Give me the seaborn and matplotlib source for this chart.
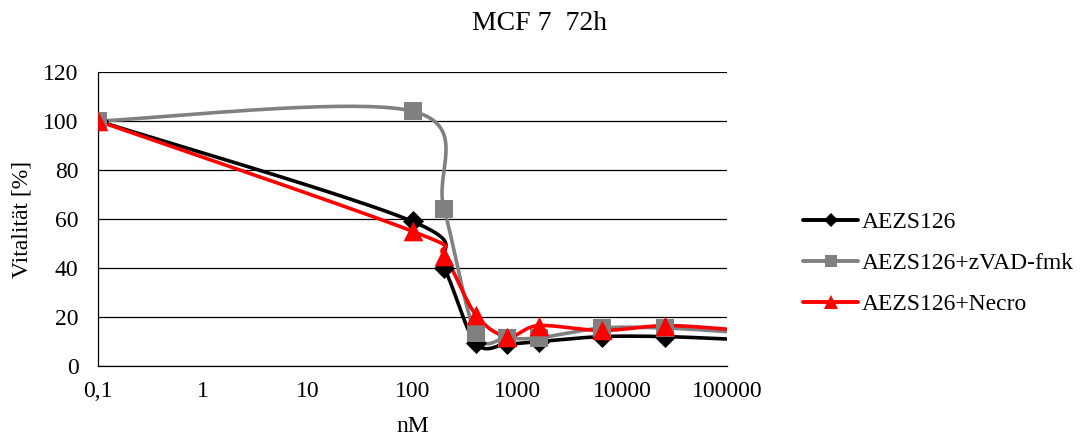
import numpy as np
import pandas as pd
import matplotlib
matplotlib.use("Agg")
import matplotlib.pyplot as plt
import seaborn as sns
from matplotlib.lines import Line2D

# ---- data ----
conc = [0.1, 100, 200, 400, 800, 1600, 6400, 25600, 102400]
aezs = [100, 59, 40, 9.5, 9, 10, 12, 12, 11]
zvad = [100, 104, 64, 13.5, 11.5, 11.5, 15.5, 15.5, 14]
necro = [100, 55, 45, 21, 12, 16.5, 14.5, 16.5, 15]
series_names = ["AEZS126", "AEZS126+zVAD-fmk", "AEZS126+Necro"]
x_ticks = [0.1, 1, 10, 100, 1000, 10000, 100000]
x_ticklabels = ["0,1", "1", "10", "100", "1000", "10000", "100000"]
y_ticks = [0, 20, 40, 60, 80, 100, 120]

colors = ["#000000", "#808080", "#FF0000"]
markers = ["D", "s", "^"]
msizes = [115, 185, 200]
leg_msizes = [7, 9, 10]

sns.set_theme(style="white")
plt.rcParams["font.family"] = ["Liberation Serif", "DejaVu Serif"]
plt.rcParams["text.color"] = "black"
plt.rcParams["axes.labelcolor"] = "black"
plt.rcParams["xtick.color"] = "black"
plt.rcParams["ytick.color"] = "black"

FS = 17

fig = plt.figure(figsize=(10.83, 4.41), dpi=100)
ax = fig.add_axes([98 / 1083, 1 - 366 / 441, (727 - 98) / 1083, (366 - 72) / 441])

XS, YS = 105.0, 2.45  # approx px per decade / per unit, used for smoothing in screen space


def smooth(xs, ys, n=40):
    u = np.log10(np.asarray(xs, float)) * XS
    v = np.asarray(ys, float) * YS
    P = np.column_stack([u, v])
    P = np.vstack([P[0], P, P[-1]])
    out = []
    for i in range(1, len(P) - 2):
        p0, p1, p2, p3 = P[i - 1], P[i], P[i + 1], P[i + 2]
        b1 = p1 + (p2 - p0) / 6.0
        b2 = p2 - (p3 - p1) / 6.0
        t = np.linspace(0, 1, n)[:, None]
        seg = ((1 - t) ** 3) * p1 + 3 * ((1 - t) ** 2) * t * b1 + 3 * (1 - t) * t ** 2 * b2 + t ** 3 * p2
        out.append(seg if i == 1 else seg[1:])
    S = np.vstack(out)
    return 10 ** (S[:, 0] / XS), S[:, 1] / YS


for name, vals, c, m, ms in zip(series_names, [aezs, zvad, necro], colors, markers, msizes):
    sx, sy = smooth(conc, vals)
    df_line = pd.DataFrame({"x": sx, "y": sy})
    sns.lineplot(data=df_line, x="x", y="y", ax=ax, color=c, lw=2.6, sort=False,
                 estimator=None, legend=False, zorder=3)
    df_pts = pd.DataFrame({"x": conc, "y": vals})
    df_pts = df_pts[df_pts["x"] <= 100000]
    sns.scatterplot(data=df_pts, x="x", y="y", ax=ax, color=c, marker=m, s=ms,
                    edgecolor=c, linewidth=0, legend=False, zorder=4)

ax.set_xscale("log")
ax.set_xlim(0.1, 100000)
ax.set_ylim(0, 120)
ax.set_xticks(x_ticks)
ax.set_xticklabels(x_ticklabels)
ax.minorticks_off()
ax.set_yticks(y_ticks)
ax.tick_params(axis="both", labelsize=FS, length=0)
ax.tick_params(axis="x", pad=11)
ax.tick_params(axis="y", pad=14)
ax.yaxis.grid(True, color="#000000", lw=0.9)
ax.xaxis.grid(False)
for s in ["top", "right"]:
    ax.spines[s].set_visible(False)
for s in ["left", "bottom"]:
    ax.spines[s].set_color("#000000")
    ax.spines[s].set_linewidth(0.9)

ax.set_xlabel("nM", fontsize=FS, labelpad=10)
ax.set_ylabel("Vitalität [%]", fontsize=FS, labelpad=8)
fig.text(540 / 1083, 1 - 24 / 441, "MCF 7  72h", ha="center", va="center", fontsize=20)

handles = [Line2D([0], [0], color=c, lw=2.8, marker=m, markersize=lm,
                  markeredgewidth=0) for c, m, lm in zip(colors, markers, leg_msizes)]
leg = fig.legend(handles, series_names, loc="upper left",
                 bbox_to_anchor=(791 / 1083, 1 - 200 / 441), frameon=False,
                 fontsize=FS, handlelength=2.35, handletextpad=0.15, labelspacing=0.82,
                 borderpad=0)

fig.savefig("out.png", dpi=100)
